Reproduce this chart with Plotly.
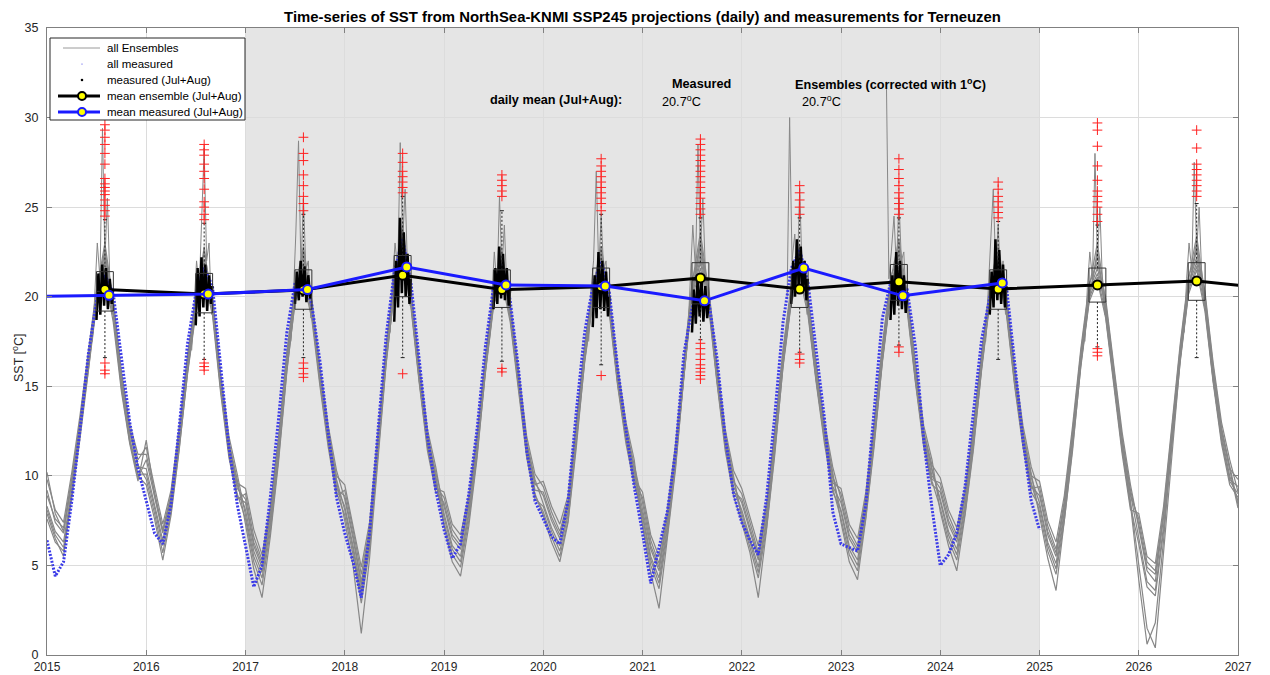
import plotly.graph_objects as go

# ---------------------------------------------------------------------------
# Daily SST ensemble members (NorthSea-KNMI SSP245), sampled on the first day
# of each month from Jan 2015 to Jan 2027 (145 values per member), in degC.
# ---------------------------------------------------------------------------
ens_01 = [
    9.8, 8.1, 7.4, 10.2, 13.4, 16.9, 20.5, 22.4, 19.9, 15.8, 12.9, 11.2,
    11.2, 9.1, 7.0, 9.0, 12.5, 16.5, 19.9, 22.5, 19.9, 15.5, 11.9, 9.8,
    7.4, 4.8, 3.2, 6.6, 10.8, 15.8, 19.8, 22.6, 19.0, 15.3, 11.9, 9.1,
    7.8, 5.6, 2.9, 5.9, 11.2, 16.3, 20.3, 22.0, 19.4, 15.2, 11.4, 9.1,
    8.5, 6.7, 6.1, 8.4, 11.9, 16.3, 20.1, 21.6, 19.4, 15.5, 11.8, 9.6,
    8.9, 7.5, 6.5, 8.3, 12.4, 16.8, 20.2, 21.5, 19.7, 15.6, 12.5, 10.3,
    7.7, 5.3, 4.0, 7.0, 10.9, 15.7, 20.1, 21.9, 19.7, 15.4, 11.6, 9.2,
    8.1, 6.5, 4.9, 7.6, 11.8, 16.4, 20.0, 22.4, 19.5, 15.6, 12.3, 9.6,
    9.3, 7.3, 6.5, 9.1, 13.0, 17.3, 21.1, 22.3, 20.3, 16.3, 12.8, 10.9,
    8.0, 6.1, 4.7, 7.8, 11.4, 16.0, 19.8, 22.7, 19.2, 15.1, 11.9, 9.3,
    9.4, 7.2, 5.9, 8.6, 12.5, 16.9, 20.5, 23.0, 19.7, 15.9, 12.1, 9.2,
    7.3, 4.9, 4.5, 7.8, 12.3, 16.9, 20.7, 22.2, 20.0, 15.9, 12.6, 10.4,
    9.8,
]
ens_02 = [
    7.6, 6.3, 5.8, 8.8, 12.1, 15.8, 19.6, 21.2, 18.6, 14.7, 11.8, 9.7,
    12.0, 8.9, 6.9, 8.8, 12.4, 16.4, 19.8, 21.8, 19.8, 15.3, 11.8, 9.6,
    9.3, 7.0, 5.6, 8.3, 12.2, 16.9, 20.7, 21.9, 19.9, 16.1, 12.8, 10.3,
    8.7, 6.5, 3.9, 6.7, 11.8, 16.8, 20.8, 22.5, 20.1, 15.8, 12.1, 9.9,
    7.7, 5.9, 5.2, 7.8, 11.5, 15.9, 19.7, 21.1, 18.9, 15.0, 11.2, 9.0,
    7.8, 6.3, 5.2, 7.4, 11.6, 16.4, 19.8, 22.6, 19.2, 15.1, 12.1, 9.7,
    8.8, 6.4, 5.1, 7.8, 11.5, 16.3, 20.7, 23.6, 20.3, 16.1, 12.3, 10.0,
    7.6, 6.0, 4.3, 7.1, 11.4, 16.1, 19.7, 21.1, 19.0, 15.2, 11.8, 9.1,
    8.1, 6.1, 5.3, 8.2, 12.2, 16.6, 20.4, 22.6, 19.7, 15.6, 12.1, 10.0,
    9.3, 7.5, 6.5, 8.8, 12.3, 16.5, 20.3, 21.8, 19.8, 15.7, 12.4, 10.0,
    9.7, 7.5, 6.3, 8.9, 12.8, 17.1, 20.7, 21.9, 19.9, 16.1, 12.4, 9.5,
    7.1, 4.7, 4.1, 7.7, 12.2, 16.8, 20.6, 21.9, 19.9, 15.8, 12.5, 10.3,
    8.2,
]
ens_03 = [
    8.9, 7.6, 7.1, 9.9, 13.1, 16.6, 20.3, 23.0, 19.7, 15.6, 12.6, 10.9,
    11.6, 9.4, 7.3, 9.2, 12.8, 16.8, 20.1, 22.1, 20.1, 15.7, 12.2, 10.1,
    7.9, 5.5, 4.3, 7.2, 11.3, 16.1, 19.9, 21.1, 19.1, 15.2, 11.8, 9.2,
    8.9, 6.7, 4.1, 6.8, 11.9, 16.9, 20.9, 22.8, 20.2, 15.9, 12.2, 10.0,
    7.2, 5.2, 4.4, 7.2, 11.0, 15.8, 19.6, 22.4, 18.8, 14.9, 11.3, 8.9,
    8.0, 6.6, 5.5, 7.5, 11.8, 16.3, 19.7, 21.1, 19.0, 15.0, 11.8, 9.5,
    7.9, 5.5, 4.3, 7.2, 11.0, 15.8, 20.2, 23.0, 19.9, 15.6, 11.9, 9.4,
    8.5, 6.9, 5.3, 7.9, 12.0, 16.6, 20.2, 21.5, 19.7, 15.8, 12.5, 9.9,
    9.0, 7.0, 6.1, 8.8, 12.7, 17.1, 20.9, 23.2, 20.1, 16.1, 12.5, 10.6,
    9.9, 8.1, 7.1, 9.3, 12.8, 16.9, 20.7, 22.1, 20.1, 16.1, 12.8, 10.5,
    9.1, 6.9, 5.7, 8.4, 12.3, 16.7, 20.3, 21.6, 19.6, 15.7, 12.0, 9.0,
    6.5, 4.1, 3.6, 7.2, 11.9, 16.5, 20.3, 21.7, 19.5, 15.4, 12.0, 9.8,
    9.4,
]
ens_04 = [
    8.1, 6.7, 6.0, 9.1, 12.5, 16.0, 19.7, 21.5, 19.0, 14.9, 11.9, 10.0,
    9.5, 7.6, 5.3, 7.8, 11.5, 15.8, 19.3, 22.8, 19.2, 14.8, 11.2, 8.7,
    9.0, 6.6, 5.3, 8.0, 11.9, 16.7, 20.5, 22.8, 19.7, 15.9, 12.5, 10.0,
    9.5, 7.3, 4.9, 7.4, 12.4, 17.3, 21.3, 23.1, 20.5, 16.3, 12.6, 10.5,
    7.9, 6.1, 5.5, 8.0, 11.6, 16.0, 19.8, 22.1, 19.1, 15.2, 11.5, 9.2,
    9.1, 7.7, 6.7, 8.4, 12.5, 16.9, 20.3, 21.8, 19.8, 15.7, 12.6, 10.4,
    8.3, 5.9, 4.7, 7.5, 11.2, 16.0, 20.4, 22.1, 20.1, 15.8, 12.1, 9.7,
    9.0, 7.4, 5.7, 8.2, 12.3, 16.9, 20.5, 22.9, 19.9, 16.1, 12.7, 10.2,
    7.4, 5.2, 4.2, 7.6, 11.6, 16.4, 20.2, 22.9, 19.4, 15.3, 11.9, 9.7,
    8.2, 6.4, 5.3, 7.9, 11.6, 15.9, 19.7, 21.1, 19.0, 15.0, 11.6, 9.1,
    8.3, 6.1, 4.8, 7.8, 11.9, 16.3, 19.9, 21.1, 19.1, 15.2, 11.4, 8.4,
    4.2, 0.6, 1.8, 6.4, 12.0, 16.6, 20.4, 22.8, 19.7, 15.6, 12.3, 10.0,
    8.6,
]
ens_05 = [
    10.2, 7.9, 6.9, 9.6, 12.9, 16.5, 20.2, 21.9, 19.5, 15.5, 12.5, 10.6,
    9.8, 7.9, 5.7, 8.0, 11.6, 15.7, 19.1, 21.0, 19.0, 14.6, 11.0, 8.8,
    8.5, 6.1, 4.9, 7.7, 11.7, 16.4, 20.2, 21.3, 19.5, 15.6, 12.3, 9.7,
    7.5, 5.0, 1.2, 5.4, 11.0, 16.2, 20.4, 23.7, 19.6, 15.3, 11.7, 9.3,
    9.1, 7.3, 6.7, 8.9, 12.4, 16.7, 20.5, 21.9, 19.7, 15.9, 12.2, 10.1,
    9.4, 8.0, 6.9, 8.6, 12.7, 17.1, 20.5, 22.8, 19.9, 15.9, 12.7, 10.6,
    8.5, 6.1, 4.9, 7.6, 11.3, 16.1, 20.5, 22.4, 20.2, 15.9, 12.2, 9.8,
    7.9, 6.3, 4.6, 7.4, 11.7, 16.3, 19.9, 21.3, 19.3, 15.4, 12.0, 9.4,
    8.5, 6.5, 5.7, 8.5, 12.4, 16.8, 20.6, 21.7, 19.9, 15.8, 12.3, 10.3,
    8.7, 6.9, 5.9, 8.4, 12.0, 16.2, 20.0, 22.4, 19.5, 15.4, 12.1, 9.6,
    8.0, 5.8, 4.5, 7.5, 11.6, 16.1, 19.7, 20.9, 18.8, 15.0, 11.2, 8.1,
    7.9, 5.5, 5.1, 8.3, 12.8, 17.3, 21.1, 22.5, 20.3, 16.3, 13.0, 10.9,
    9.1,
]
ens_06 = [
    8.3, 6.9, 6.3, 9.3, 12.6, 16.1, 19.8, 22.2, 19.2, 15.1, 12.1, 10.1,
    10.1, 8.2, 6.1, 8.3, 11.9, 15.9, 19.4, 21.3, 19.3, 14.9, 11.3, 9.0,
    7.6, 5.2, 3.9, 6.9, 11.0, 15.9, 19.7, 20.9, 18.8, 15.0, 11.6, 8.9,
    9.2, 7.0, 4.5, 7.1, 12.1, 17.1, 21.1, 24.0, 20.3, 16.1, 12.3, 10.2,
    8.3, 6.5, 5.9, 8.3, 11.8, 16.2, 20.0, 21.3, 19.3, 15.4, 11.7, 9.5,
    9.7, 8.3, 7.3, 8.9, 13.0, 17.3, 20.7, 22.1, 20.1, 16.1, 13.0, 10.9,
    7.2, 4.6, 2.6, 6.4, 10.4, 15.6, 20.0, 23.3, 19.6, 15.3, 11.7, 9.1,
    8.7, 7.1, 5.5, 8.0, 12.1, 16.7, 20.3, 21.8, 19.8, 15.9, 12.6, 10.0,
    7.9, 5.9, 5.0, 8.0, 12.1, 16.5, 20.3, 21.5, 19.5, 15.4, 11.8, 9.8,
    9.6, 7.8, 6.7, 9.0, 12.5, 16.7, 20.5, 22.9, 19.9, 15.9, 12.5, 10.2,
    7.8, 5.4, 3.6, 7.4, 11.4, 16.2, 19.8, 22.6, 19.0, 15.1, 11.5, 8.3,
    6.2, 3.8, 3.3, 6.9, 11.6, 16.3, 20.1, 21.5, 19.2, 15.2, 11.8, 9.5,
    8.8,
]
ens_07 = [
    9.2, 7.4, 6.8, 9.7, 13.0, 16.4, 20.1, 21.6, 19.4, 15.4, 12.4, 10.5,
    10.4, 8.4, 6.4, 8.5, 12.1, 16.1, 19.5, 21.9, 19.5, 15.1, 11.5, 9.3,
    8.7, 6.3, 5.1, 7.8, 11.8, 16.5, 20.3, 21.6, 19.6, 15.7, 12.4, 9.8,
    8.1, 5.9, 3.3, 6.2, 11.5, 16.5, 20.5, 22.3, 19.7, 15.4, 11.6, 9.4,
    8.8, 7.0, 6.3, 8.6, 12.1, 16.5, 20.3, 22.6, 19.5, 15.7, 11.9, 9.8,
    8.5, 7.1, 6.1, 8.0, 12.2, 16.6, 20.0, 22.3, 19.5, 15.4, 12.3, 10.0,
    7.4, 5.0, 3.7, 6.7, 10.6, 15.5, 19.9, 21.6, 19.4, 15.2, 11.4, 8.9,
    7.4, 5.7, 3.2, 7.0, 11.2, 16.2, 19.8, 22.6, 19.2, 15.3, 12.1, 9.3,
    7.6, 5.6, 4.7, 7.7, 11.8, 16.3, 20.1, 21.3, 19.2, 15.2, 11.6, 9.5,
    9.1, 7.3, 6.3, 8.7, 12.2, 16.4, 20.2, 21.5, 19.7, 15.6, 12.3, 9.9,
    8.5, 6.3, 5.1, 8.0, 12.0, 16.4, 20.0, 22.3, 19.3, 15.4, 11.7, 8.6,
    5.0, 1.5, 0.4, 5.8, 11.4, 16.4, 20.2, 23.1, 19.4, 15.3, 12.1, 9.7,
    9.0,
]
ens_08 = [
    7.9, 6.5, 5.5, 8.9, 12.3, 15.9, 19.9, 22.7, 19.1, 15.2, 12.0, 9.9,
    10.9, 8.8, 6.8, 8.7, 12.3, 16.3, 19.7, 21.5, 19.7, 15.2, 11.7, 9.5,
    8.1, 5.8, 4.6, 7.4, 11.4, 16.2, 20.0, 22.3, 19.3, 15.5, 12.0, 9.4,
    8.3, 6.1, 3.6, 6.4, 11.6, 16.6, 20.6, 23.4, 19.9, 15.6, 11.9, 9.6,
    7.4, 5.6, 4.9, 7.5, 11.2, 15.7, 19.5, 20.9, 18.6, 14.8, 11.0, 8.7,
    8.3, 6.9, 5.8, 7.8, 12.1, 16.5, 19.9, 21.3, 19.3, 15.2, 12.0, 9.8,
    9.1, 6.7, 5.5, 8.1, 11.8, 16.5, 20.9, 22.7, 20.5, 16.3, 12.6, 10.3,
    9.3, 7.7, 6.1, 8.5, 12.6, 17.1, 20.7, 22.1, 20.1, 16.3, 13.0, 10.5,
    8.7, 6.7, 5.9, 8.6, 12.5, 16.9, 20.7, 22.0, 20.0, 15.9, 12.4, 10.4,
    8.5, 6.7, 5.6, 8.2, 11.9, 16.1, 19.9, 21.3, 19.3, 15.2, 11.8, 9.4,
    8.9, 6.7, 5.5, 8.3, 12.2, 16.6, 20.2, 21.3, 19.5, 15.6, 11.9, 8.9,
    7.6, 5.2, 4.7, 8.0, 12.5, 17.1, 20.9, 23.4, 20.1, 16.1, 12.7, 10.6,
    8.4,
]
ensemble_members = [ens_01, ens_02, ens_03, ens_04, ens_05, ens_06, ens_07, ens_08]

# Short-lived summer extremes of the ensemble (one member per year), by day of year
peak_years = list(range(2015, 2027))
peak_doy = [168, 177, 186, 196, 205, 214, 223, 232, 241]
peak_values = [
    [17.5, 20.5, 23.0, 21.0, 29.4, 22.0, 25.5, 21.0, 19.0],
    [17.0, 19.5, 22.0, 20.5, 24.5, 28.3, 22.0, 23.0, 19.0],
    [17.5, 20.0, 23.5, 28.7, 21.5, 25.5, 21.5, 22.0, 18.8],
    [18.0, 21.0, 23.0, 21.5, 28.6, 23.0, 26.0, 21.5, 19.5],
    [17.5, 20.0, 22.5, 20.5, 25.6, 21.5, 24.0, 20.5, 19.0],
    [17.5, 20.5, 22.0, 27.0, 21.5, 24.5, 21.5, 22.0, 19.0],
    [18.0, 21.0, 24.0, 21.5, 28.5, 22.5, 25.5, 21.5, 19.5],
    [20.0, 30.0, 22.0, 23.5, 21.0, 26.0, 21.5, 22.0, 19.0],
    [32.0, 21.0, 22.5, 24.5, 21.5, 25.5, 22.0, 22.5, 19.5],
    [17.5, 20.0, 22.5, 26.0, 21.5, 24.0, 21.0, 22.0, 19.0],
    [17.5, 20.5, 22.5, 21.0, 28.0, 22.0, 25.0, 21.0, 19.0],
    [18.0, 21.0, 23.0, 21.5, 27.5, 22.5, 25.0, 21.5, 19.5],
]

# Measured SST at Terneuzen, first day of each month, Jan 2015 .. Jan 2025
measured = [
    6.4, 4.4, 5.2, 8.6, 12.6, 16.8, 19.8, 21.2, 20.2, 16.6, 13.0, 10.4,
    8.6, 6.8, 6.2, 8.4, 12.8, 17.4, 20.2, 21.6, 20.6, 16.2, 11.6, 8.4,
    6.2, 3.8, 5.0, 8.8, 13.2, 18.0, 20.8, 21.0, 19.6, 16.4, 12.4, 8.8,
    6.8, 5.2, 3.2, 6.8, 12.4, 17.8, 21.4, 23.2, 20.8, 16.6, 12.2, 9.2,
    7.0, 5.4, 6.2, 9.0, 12.6, 17.2, 20.6, 21.8, 19.8, 16.0, 11.4, 8.6,
    7.6, 6.6, 6.2, 8.6, 13.6, 18.0, 20.6, 22.0, 20.2, 16.0, 12.6, 9.4,
    6.8, 4.0, 6.0, 8.0, 11.4, 16.8, 19.4, 20.2, 19.8, 16.6, 12.2, 9.0,
    7.4, 6.4, 5.6, 8.8, 13.4, 18.6, 21.6, 22.6, 20.8, 17.0, 13.2, 8.0,
    6.2, 6.0, 5.8, 8.4, 13.6, 18.8, 20.8, 20.6, 20.4, 17.2, 12.0, 8.2,
    5.0, 5.6, 6.8, 9.4, 13.6, 17.6, 20.0, 21.4, 20.6, 16.2, 12.0, 8.6,
    7.0,
]

# Measured SST in July + August (weekly spread of the high-frequency record)
summer_years = list(range(2015, 2025))
summer_doy = [183, 190, 197, 204, 211, 218, 225, 232, 239, 244]
summer_measured = [
    [18.7, 21.3, 19.0, 21.8, 19.5, 21.6, 19.3, 21.0, 19.6, 20.4],
    [18.4, 21.6, 18.9, 22.2, 19.4, 21.8, 19.2, 21.2, 19.6, 20.6],
    [19.6, 21.4, 19.8, 22.0, 20.0, 21.7, 19.7, 21.2, 19.9, 20.5],
    [18.6, 22.0, 19.4, 24.4, 20.2, 23.6, 20.0, 22.4, 19.6, 21.0],
    [19.3, 21.6, 19.6, 22.8, 19.9, 22.4, 19.8, 21.6, 19.5, 20.4],
    [18.3, 21.2, 18.8, 22.5, 19.3, 22.0, 19.2, 21.4, 18.9, 20.0],
    [18.0, 20.4, 18.5, 21.2, 18.9, 21.0, 18.6, 20.6, 18.8, 19.6],
    [19.6, 22.0, 20.0, 23.2, 20.4, 22.8, 20.2, 22.0, 19.8, 21.0],
    [18.7, 21.2, 19.0, 22.5, 19.5, 22.0, 19.3, 21.2, 19.1, 20.0],
    [19.0, 21.4, 19.4, 23.2, 19.8, 22.6, 19.6, 21.8, 19.4, 20.6],
]

# Box statistics of the ensemble daily SST in July + August
box_years = list(range(2015, 2027))
box_q1 = [19.2, 19.1, 19.3, 20.0, 19.4, 19.4, 19.6, 19.4, 19.8, 19.3, 19.7, 19.8]
box_median = [20.3, 20.2, 20.3, 21.1, 20.4, 20.5, 20.9, 20.4, 20.8, 20.4, 20.6, 20.8]
box_q3 = [21.4, 21.3, 21.5, 22.3, 21.5, 21.6, 21.9, 21.5, 21.8, 21.5, 21.6, 21.9]
box_lower = [16.6, 16.5, 16.6, 16.6, 16.4, 16.2, 17.6, 16.9, 17.3, 16.5, 17.2, 16.6]
box_upper = [24.3, 24.1, 24.6, 25.6, 24.8, 24.6, 24.4, 24.4, 24.4, 24.2, 24.0, 25.2]
outliers_high = [
    [24.5, 24.8, 25.1, 25.4, 25.7, 25.9, 26.1, 26.3, 26.6, 27.4, 28.0, 28.5, 28.9, 29.3, 29.6],
    [24.3, 24.6, 25.0, 25.3, 26.0, 26.6, 27.0, 27.4, 27.9, 28.2, 28.5],
    [24.8, 25.2, 25.6, 26.2, 26.8, 27.6, 28.0, 28.9],
    [25.8, 26.1, 26.4, 26.7, 27.0, 27.5, 28.0],
    [25.6, 25.9, 26.2, 26.5, 26.8],
    [24.8, 25.2, 25.5, 25.8, 26.1, 26.4, 26.7, 27.0, 27.3, 27.7],
    [24.6, 24.9, 25.2, 25.5, 25.8, 26.1, 26.4, 26.7, 27.0, 27.3, 27.6, 27.9, 28.2, 28.5, 28.8],
    [24.6, 25.0, 25.4, 25.8, 26.2],
    [24.6, 24.9, 25.2, 25.5, 25.8, 26.2, 26.6, 27.1, 27.7],
    [24.4, 24.7, 25.0, 25.3, 25.6, 26.0, 26.4],
    [24.2, 24.6, 25.0, 25.3, 25.6, 25.9, 26.5, 27.3, 28.4, 29.3, 29.7],
    [25.6, 25.9, 26.2, 26.5, 26.8, 27.1, 27.4, 28.3, 29.3],
]
outliers_low = [
    [16.3, 15.9, 15.7],
    [16.3, 16.1, 15.9],
    [16.3, 16.0, 15.7, 15.5],
    [15.7],
    [16.0, 15.8],
    [15.6],
    [17.4, 17.1, 16.8, 16.5, 16.2, 16.0, 15.8, 15.6, 15.4],
    [16.8, 16.5, 16.3],
    [17.2, 16.9],
    [],
    [17.1, 16.9, 16.7],
    [],
]

# Jul+Aug mean per year
ens_mean_years = list(range(2015, 2028))
ens_mean = [20.4, 20.15, 20.38, 21.2, 20.4, 20.55, 21.05, 20.43, 20.83, 20.43, 20.66, 20.88, 20.3]
meas_mean_years = list(range(2014, 2025))
meas_mean = [20.0, 20.08, 20.15, 20.4, 21.66, 20.66, 20.6, 19.77, 21.6, 20.05, 20.77]

measured_daily_mean = 20.7
ensemble_daily_mean = 20.7

legend_labels = ["all Ensembles", "all measured", "measured (Jul+Aug)",
                 "mean ensemble (Jul+Aug)", "mean measured (Jul+Aug)"]

# ---------------------------------------------------------------------------
START_YEAR = 2015
ENS_MEAN_DOY = 214     # plotting date of the ensemble summer mean / box
MEAS_MEAN_DOY = 229    # plotting date of the measured summer mean
BOX_HALF = 0.085
CAP_HALF = 0.02

W, H = 1270, 675
M_L, M_R, M_T, M_B = 47, 32, 28, 20
PLOT_W = W - M_L - M_R
PLOT_H = H - M_T - M_B

FONT = "Liberation Sans, Arial, Helvetica, sans-serif"
GRAY_LINE = "#878787"
BLUE = "#1a1aff"
DOT_BLUE = "#3b3be8"


def monthly_axis(n):
    return [START_YEAR + i / 12 for i in range(n)]


def doy_to_year(year, doy):
    return year + (doy - 1) / 365.0


def px_x(px):
    """page pixel column -> paper x"""
    return (px - M_L) / PLOT_W


def px_y(py):
    """page pixel row -> paper y"""
    return (H - M_B - py) / PLOT_H


fig = go.Figure()

# ensemble members
for member in ensemble_members:
    fig.add_trace(go.Scatter(
        x=monthly_axis(len(member)), y=member, mode="lines",
        line=dict(color=GRAY_LINE, width=1.2), showlegend=False, hoverinfo="skip",
    ))

# summer extremes of the ensemble
for yr, vals in zip(peak_years, peak_values):
    fig.add_trace(go.Scatter(
        x=[doy_to_year(yr, d) for d in peak_doy], y=vals, mode="lines",
        line=dict(color=GRAY_LINE, width=1), showlegend=False, hoverinfo="skip",
    ))

# all measured
fig.add_trace(go.Scatter(
    x=monthly_axis(len(measured)), y=measured, mode="lines",
    line=dict(color=DOT_BLUE, width=3, dash="2px,1.5px"),
    showlegend=False, hoverinfo="skip",
))

# measured Jul+Aug
for yr, vals in zip(summer_years, summer_measured):
    fig.add_trace(go.Scatter(
        x=[doy_to_year(yr, d) for d in summer_doy], y=vals, mode="lines",
        line=dict(color="black", width=2.5), showlegend=False, hoverinfo="skip",
    ))

# box plots of the ensemble Jul+Aug values
bx, by, wx, wy, cx, cy, mx, my = [], [], [], [], [], [], [], []
ox, oy = [], []
for j, yr in enumerate(box_years):
    c = doy_to_year(yr, ENS_MEAN_DOY)
    bx += [c - BOX_HALF, c + BOX_HALF, c + BOX_HALF, c - BOX_HALF, c - BOX_HALF, None]
    by += [box_q1[j], box_q1[j], box_q3[j], box_q3[j], box_q1[j], None]
    mx += [c - BOX_HALF, c + BOX_HALF, None]
    my += [box_median[j], box_median[j], None]
    wx += [c, c, None, c, c, None]
    wy += [box_q3[j], box_upper[j], None, box_q1[j], box_lower[j], None]
    cx += [c - CAP_HALF, c + CAP_HALF, None, c - CAP_HALF, c + CAP_HALF, None]
    cy += [box_upper[j], box_upper[j], None, box_lower[j], box_lower[j], None]
    for v in outliers_high[j] + outliers_low[j]:
        ox.append(c)
        oy.append(v)

fig.add_trace(go.Scatter(x=bx, y=by, mode="lines", line=dict(color="#333333", width=1),
                         showlegend=False, hoverinfo="skip"))
fig.add_trace(go.Scatter(x=mx, y=my, mode="lines", line=dict(color="#333333", width=1),
                         showlegend=False, hoverinfo="skip"))
fig.add_trace(go.Scatter(x=wx, y=wy, mode="lines", line=dict(color="#222222", width=1, dash="2px,2px"),
                         showlegend=False, hoverinfo="skip"))
fig.add_trace(go.Scatter(x=cx, y=cy, mode="lines", line=dict(color="#222222", width=1),
                         showlegend=False, hoverinfo="skip"))
fig.add_trace(go.Scatter(x=ox, y=oy, mode="markers",
                         marker=dict(symbol="cross-thin", size=7, line=dict(color="#ff2020", width=1)),
                         showlegend=False, hoverinfo="skip"))

# mean lines
fig.add_trace(go.Scatter(
    x=[doy_to_year(y, ENS_MEAN_DOY) for y in ens_mean_years], y=ens_mean,
    mode="lines+markers",
    line=dict(color="black", width=3),
    marker=dict(color="#ffff00", size=9, line=dict(color="black", width=2)),
    showlegend=False, hoverinfo="skip",
))
fig.add_trace(go.Scatter(
    x=[doy_to_year(y, MEAS_MEAN_DOY) for y in meas_mean_years], y=meas_mean,
    mode="lines+markers",
    line=dict(color=BLUE, width=3),
    marker=dict(color="#ffff00", size=9, line=dict(color=BLUE, width=2)),
    showlegend=False, hoverinfo="skip",
))

# projection period shading
fig.add_shape(type="rect", xref="x", yref="paper", x0=2017, x1=2025, y0=0, y1=1,
              fillcolor="#e5e5e5", line=dict(width=0), layer="below")

# ---- legend box (compact, drawn in paper coordinates) ----
LEG_L, LEG_R, LEG_T, LEG_B = 50, 245, 38, 120
ROW_Y = [48, 64, 80, 96, 112]
SYM_L, SYM_R, SYM_C, TXT_X = 58, 100, 82, 105

fig.add_shape(type="rect", xref="paper", yref="paper",
              x0=px_x(LEG_L), x1=px_x(LEG_R), y0=px_y(LEG_B), y1=px_y(LEG_T),
              fillcolor="white", line=dict(color="#262626", width=1), layer="above")


def legend_line(row, color, width, left=SYM_L):
    fig.add_shape(type="line", xref="paper", yref="paper",
                  x0=px_x(left), x1=px_x(SYM_R), y0=px_y(ROW_Y[row]), y1=px_y(ROW_Y[row]),
                  line=dict(color=color, width=width), layer="above")


def legend_dot(row, fill, edge, radius, edge_w=0):
    fig.add_shape(type="circle", xref="paper", yref="paper",
                  x0=px_x(SYM_C - radius), x1=px_x(SYM_C + radius),
                  y0=px_y(ROW_Y[row] + radius), y1=px_y(ROW_Y[row] - radius),
                  fillcolor=fill, line=dict(color=edge, width=edge_w), layer="above")


legend_line(0, "#9a9a9a", 1, left=63)
legend_dot(1, DOT_BLUE, DOT_BLUE, 0.6)
legend_dot(2, "black", "black", 1.3)
legend_line(3, "black", 3)
legend_dot(3, "#ffff00", "black", 4, 2)
legend_line(4, BLUE, 3)
legend_dot(4, "#ffff00", BLUE, 4, 2)

for row, label in enumerate(legend_labels):
    fig.add_annotation(xref="paper", yref="paper", x=px_x(TXT_X), y=px_y(ROW_Y[row]),
                       text=label, xanchor="left", yanchor="middle", showarrow=False,
                       font=dict(family=FONT, size=11.5, color="black"))

# ---- text block ----
annot_font = dict(family=FONT, size=12.7, color="black")
fig.add_annotation(x=2019.44, y=31.0, text="<b>daily mean (Jul+Aug):</b>",
                   xanchor="left", yanchor="middle", showarrow=False, font=annot_font)
fig.add_annotation(x=2021.28, y=31.9, text="<b>Measured</b>",
                   xanchor="left", yanchor="middle", showarrow=False, font=annot_font)
fig.add_annotation(x=2021.18, y=30.95, text=f"{measured_daily_mean:.1f}<sup>o</sup>C",
                   xanchor="left", yanchor="middle", showarrow=False, font=annot_font)
fig.add_annotation(x=2022.52, y=31.9, text="<b>Ensembles (corrected with 1<sup>o</sup>C)</b>",
                   xanchor="left", yanchor="middle", showarrow=False, font=annot_font)
fig.add_annotation(x=2022.59, y=30.95, text=f"{ensemble_daily_mean:.1f}<sup>o</sup>C",
                   xanchor="left", yanchor="middle", showarrow=False, font=annot_font)

# y-axis label
fig.add_annotation(xref="paper", yref="paper", x=px_x(18), y=px_y(358), text="SST [<sup>o</sup>C]",
                   textangle=-90, showarrow=False, xanchor="center", yanchor="middle",
                   font=dict(family=FONT, size=12.5, color="#262626"))

axis_common = dict(
    showgrid=True, gridcolor="#dcdcdc", gridwidth=1,
    showline=True, linecolor="#808080", linewidth=1, mirror="ticks",
    ticks="inside", ticklen=5, tickcolor="#808080",
    zeroline=False, automargin=False,
)

fig.update_layout(
    width=W, height=H,
    margin=dict(l=M_L, r=M_R, t=M_T, b=M_B, autoexpand=False),
    paper_bgcolor="white", plot_bgcolor="white",
    font=dict(family=FONT, color="#262626"),
    title=dict(
        text="<b>Time-series of SST from NorthSea-KNMI SSP245 projections (daily) and measurements for Terneuzen</b>",
        x=0.5, xref="paper", xanchor="center", y=1 - 17 / H, yref="container", yanchor="middle",
        font=dict(family=FONT, size=14.9, color="black"),
    ),
    xaxis=dict(range=[2015, 2027], tick0=2015, dtick=1, ticklabelstandoff=1,
               tickfont=dict(family=FONT, size=12, color="#262626"), **axis_common),
    yaxis=dict(range=[0, 35], tick0=0, dtick=5, ticklabelstandoff=5,
               tickfont=dict(family=FONT, size=12.5, color="#262626"), **axis_common),
    showlegend=False,
)

fig.write_html("out.html")
